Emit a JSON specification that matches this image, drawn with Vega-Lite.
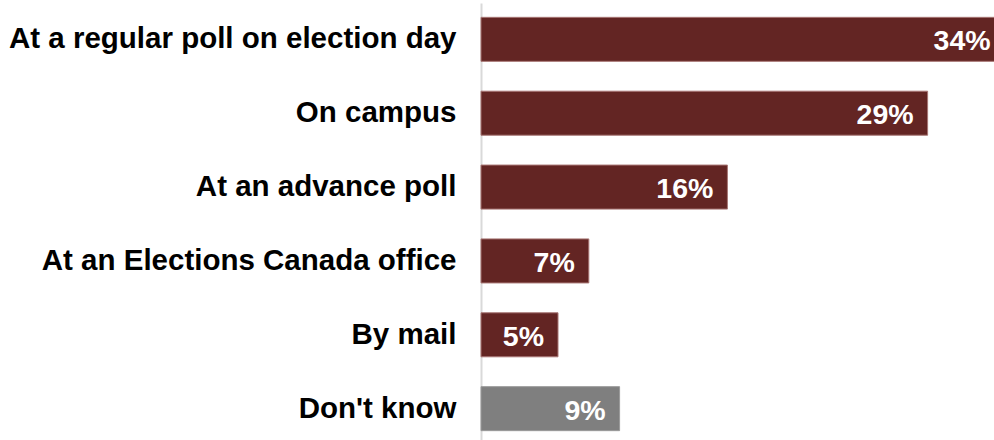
{
  "$schema": "https://vega.github.io/schema/vega-lite/v6.json",
  "width": 513,
  "height": 442,
  "autosize": {"type": "none"},
  "padding": {"left": 481, "top": 3, "right": 0, "bottom": 0},
  "background": "white",
  "config": {
    "view": {"stroke": null},
    "font": "Liberation Sans"
  },
  "data": {
    "values": [
      {"place": "At a regular poll on election day", "pct": 34, "label": "34%", "kind": "answer"},
      {"place": "On campus", "pct": 29, "label": "29%", "kind": "answer"},
      {"place": "At an advance poll", "pct": 16, "label": "16%", "kind": "answer"},
      {"place": "At an Elections Canada office", "pct": 7, "label": "7%", "kind": "answer"},
      {"place": "By mail", "pct": 5, "label": "5%", "kind": "answer"},
      {"place": "Don't know", "pct": 9, "label": "9%", "kind": "unsure"}
    ]
  },
  "encoding": {
    "y": {
      "field": "place",
      "type": "nominal",
      "sort": null,
      "scale": {"paddingInner": 0.404, "paddingOuter": 0.194},
      "axis": {
        "title": null,
        "ticks": false,
        "domain": true,
        "domainColor": "#d9d9d9",
        "domainWidth": 2,
        "labelFont": "Liberation Sans",
        "labelFontSize": 29.5,
        "labelFontWeight": "bold",
        "labelColor": "#000000",
        "labelPadding": 25,
        "labelLimit": 0,
        "grid": false
      }
    },
    "x": {
      "field": "pct",
      "type": "quantitative",
      "scale": {"domain": [0, 33.31], "nice": false, "zero": true},
      "axis": null
    }
  },
  "layer": [
    {
      "mark": {"type": "bar", "strokeWidth": 1, "clip": false},
      "encoding": {
        "color": {
          "field": "kind",
          "type": "nominal",
          "scale": {"domain": ["answer", "unsure"], "range": ["#632523", "#7f7f7f"]},
          "legend": null
        },
        "stroke": {
          "field": "kind",
          "type": "nominal",
          "scale": {"domain": ["answer", "unsure"], "range": ["#a87674", "#9a9a9a"]},
          "legend": null
        }
      }
    },
    {
      "mark": {
        "type": "text",
        "align": "right",
        "baseline": "middle",
        "dx": -14,
        "dy": 2,
        "font": "Liberation Sans",
        "fontSize": 28.5,
        "fontWeight": "bold",
        "color": "#ffffff",
        "clip": false
      },
      "encoding": {
        "text": {"field": "label", "type": "nominal"}
      }
    }
  ]
}
